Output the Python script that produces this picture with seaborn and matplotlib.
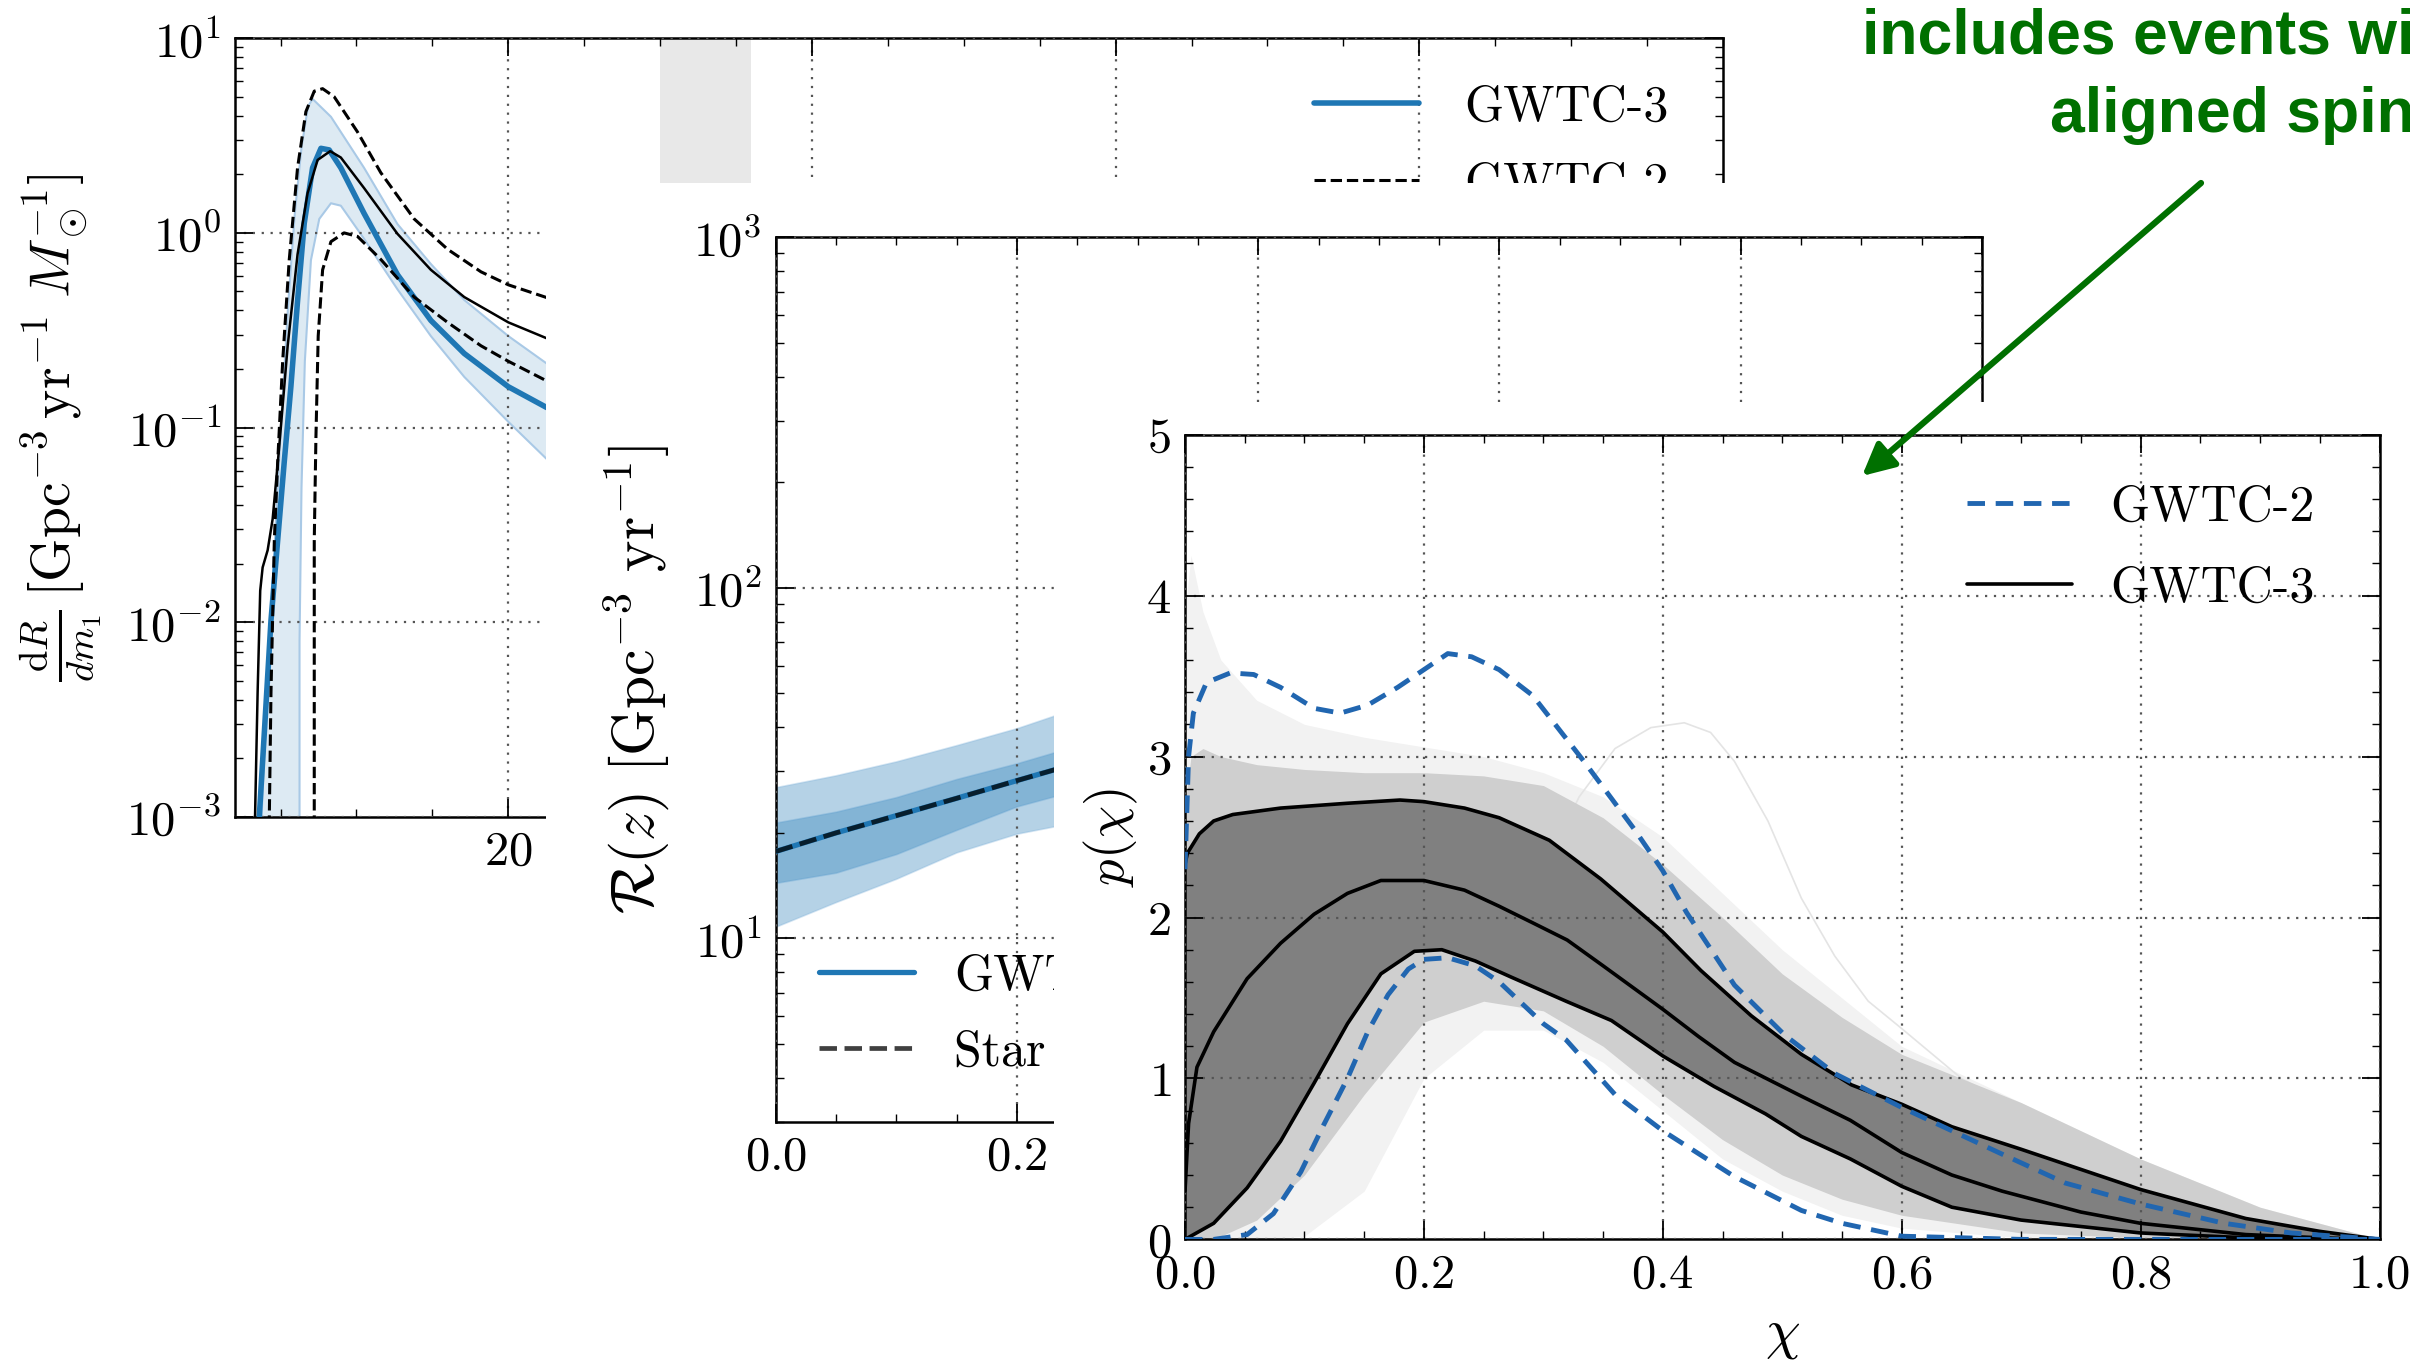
import matplotlib
matplotlib.use("Agg")
import matplotlib.pyplot as plt
import seaborn as sns
from matplotlib.patches import Rectangle, FancyArrowPatch
from matplotlib.ticker import AutoMinorLocator, FixedLocator

# ------------------------------------------------------------------
# Panel 1 : dR/dm1 (log y) versus primary mass
# ------------------------------------------------------------------
m_med = [3.52, 3.6, 3.93, 4.37, 4.81, 5.24, 5.68, 6.12, 6.56, 7.11, 7.66, 8.2, 8.97,
         10.5, 12.7, 14.9, 17.1, 20.0, 22.5, 24.0]
r_med = [0.0005, 0.001, 0.00269, 0.0102, 0.0263, 0.0661, 0.162, 0.447, 1.12, 2.16,
         2.72, 2.67, 2.16, 1.26, 0.610, 0.355, 0.240, 0.162, 0.127, 0.112]
m_band_hi = [3.7, 3.75, 4.19, 4.63, 5.06, 5.5, 5.94, 6.38, 6.81, 7.11, 8.32, 10.5,
             12.7, 14.9, 17.1, 20.0, 22.5, 24.0]
r_band_hi = [0.0005, 0.001, 0.00589, 0.0263, 0.112, 0.427, 1.26, 2.75, 4.47, 4.88,
             3.95, 2.16, 1.11, 0.692, 0.452, 0.295, 0.214, 0.182]
m_band_lo = [6.25, 6.25, 6.38, 6.6, 7.0, 7.55, 8.32, 8.97, 10.5, 12.7, 14.9, 17.1,
             20.0, 22.5, 24.0]
r_band_lo = [0.0005, 0.00794, 0.049, 0.219, 0.724, 1.18, 1.42, 1.38, 0.933, 0.513,
             0.295, 0.182, 0.107, 0.0692, 0.054]
m_gw2_med = [3.3, 3.32, 3.49, 3.66, 3.82, 4.15, 4.48, 4.91, 5.47, 6.12, 6.78, 7.44,
             8.27, 8.97, 10.5, 12.7, 14.9, 17.1, 20.0, 22.5, 24.0]
r_gw2_med = [0.0005, 0.001, 0.00437, 0.0145, 0.0191, 0.0234, 0.0339, 0.0794, 0.263,
             0.776, 1.60, 2.37, 2.63, 2.44, 1.70, 0.989, 0.646, 0.468, 0.347, 0.288,
             0.263]
m_gw2_hi = [4.24, 4.26, 4.37, 4.59, 4.81, 5.14, 5.57, 6.12, 6.67, 7.22, 7.77, 8.53,
            10.07, 11.6, 13.8, 16.0, 18.2, 20.0, 22.5, 24.0]
r_gw2_hi = [0.0005, 0.001, 0.00437, 0.0263, 0.0661, 0.219, 0.724, 2.16, 4.20, 5.35,
            5.51, 5.01, 3.30, 2.04, 1.18, 0.824, 0.631, 0.541, 0.466, 0.44]
m_gw2_lo = [7.22, 7.22, 7.33, 7.48, 7.77, 8.32, 9.19, 10.07, 11.6, 13.8, 16.0, 18.2,
            20.0, 22.5, 24.0]
r_gw2_lo = [0.0005, 0.0263, 0.0891, 0.295, 0.646, 0.902, 1.0, 0.959, 0.731, 0.468,
            0.347, 0.263, 0.219, 0.174, 0.155]
mass_span = [30.0, 36.0]
mass_ticks = [20, 40, 60, 80]
mass_labels = ["GWTC-3", "GWTC-2"]

# ------------------------------------------------------------------
# Panel 2 : merger rate R(z)
# ------------------------------------------------------------------
z_grid = [0.0, 0.05, 0.10, 0.15, 0.20, 0.25]
rz_90_hi = [27.0, 29.2, 32.0, 35.6, 39.8, 45.5]
rz_50_hi = [21.4, 23.0, 25.3, 28.5, 31.6, 35.5]
rz_med = [17.7, 20.0, 22.4, 25.1, 28.2, 31.6]
rz_50_lo = [14.4, 15.4, 17.4, 20.4, 23.8, 26.5]
rz_90_lo = [10.8, 12.7, 14.8, 17.6, 19.9, 21.5]
z_ticks = [0.0, 0.2, 0.4, 0.6, 0.8, 1.0]
rate_labels = ["GWTC-3", "Star formation"]

# ------------------------------------------------------------------
# Panel 3 : spin magnitude p(chi)
# ------------------------------------------------------------------
chi_med = [0.0, 0.003, 0.01, 0.024, 0.052, 0.08, 0.108, 0.136, 0.164, 0.2, 0.234,
           0.263, 0.293, 0.32, 0.35, 0.4, 0.43, 0.46, 0.516, 0.557, 0.6, 0.642,
           0.684, 0.75, 0.8, 0.888, 0.95, 1.0]
p_med = [0.3, 0.72, 1.07, 1.29, 1.62, 1.84, 2.02, 2.15, 2.23, 2.23, 2.17, 2.07, 1.96,
         1.86, 1.70, 1.43, 1.26, 1.10, 0.89, 0.74, 0.54, 0.40, 0.30, 0.17, 0.10,
         0.03, 0.01, 0.0]
chi_hi = [0.0, 0.002, 0.012, 0.024, 0.04, 0.08, 0.136, 0.18, 0.2, 0.234, 0.263, 0.305,
          0.348, 0.4, 0.432, 0.474, 0.516, 0.558, 0.6, 0.642, 0.7, 0.8, 0.888, 0.95,
          1.0]
p_hi = [2.33, 2.40, 2.52, 2.60, 2.64, 2.68, 2.71, 2.73, 2.72, 2.68, 2.62, 2.48, 2.24,
        1.91, 1.67, 1.39, 1.15, 0.96, 0.84, 0.70, 0.56, 0.31, 0.13, 0.05, 0.0]
chi_lo = [0.0, 0.024, 0.052, 0.08, 0.108, 0.136, 0.164, 0.192, 0.215, 0.243, 0.273,
          0.319, 0.357, 0.4, 0.443, 0.486, 0.516, 0.557, 0.6, 0.642, 0.7, 0.8, 0.888,
          1.0]
p_lo = [0.0, 0.10, 0.32, 0.61, 0.97, 1.34, 1.65, 1.79, 1.80, 1.73, 1.63, 1.48, 1.36,
        1.14, 0.95, 0.78, 0.64, 0.50, 0.33, 0.20, 0.12, 0.04, 0.01, 0.0]
chi_gw2_hi = [0.0, 0.003, 0.007, 0.018, 0.038, 0.0575, 0.08, 0.108, 0.13, 0.153, 0.178,
              0.2, 0.22, 0.24, 0.263, 0.291, 0.334, 0.376, 0.4, 0.42, 0.46, 0.502,
              0.544, 0.6, 0.642, 0.684, 0.737, 0.8, 0.87, 0.926, 1.0]
p_gw2_hi = [2.3, 3.0, 3.27, 3.46, 3.52, 3.51, 3.43, 3.30, 3.27, 3.32, 3.43, 3.54, 3.64,
            3.62, 3.54, 3.38, 2.97, 2.55, 2.29, 2.03, 1.58, 1.27, 1.03, 0.82, 0.675,
            0.53, 0.35, 0.22, 0.10, 0.04, 0.0]
chi_gw2_lo = [0.0, 0.024, 0.052, 0.074, 0.097, 0.116, 0.136, 0.153, 0.17, 0.187, 0.2,
              0.22, 0.243, 0.263, 0.3, 0.319, 0.36, 0.4, 0.46, 0.516, 0.55, 0.6, 0.7,
              1.0]
p_gw2_lo = [0.0, 0.0, 0.03, 0.16, 0.42, 0.71, 1.0, 1.29, 1.52, 1.68, 1.74, 1.75, 1.70,
            1.60, 1.34, 1.24, 0.90, 0.675, 0.39, 0.18, 0.10, 0.02, 0.0, 0.0]
# envelope of the individual posterior draws (grey traces)
env_chi = [0.0, 0.005, 0.015, 0.03, 0.06, 0.1, 0.15, 0.2, 0.25, 0.3, 0.35, 0.4, 0.45,
           0.5, 0.55, 0.6, 0.7, 0.8, 0.9, 1.0]
faint_hi = [3.9, 4.25, 3.9, 3.6, 3.35, 3.2, 3.12, 3.06, 3.0, 2.9, 2.75, 2.5, 2.15,
            1.8, 1.5, 1.2, 0.85, 0.5, 0.2, 0.0]
dense_hi = [2.7, 3.0, 3.05, 3.0, 2.95, 2.92, 2.9, 2.9, 2.88, 2.82, 2.62, 2.33, 2.0,
            1.65, 1.38, 1.15, 0.85, 0.5, 0.2, 0.0]
dense_lo = [0.0, 0.0, 0.0, 0.02, 0.12, 0.4, 0.9, 1.35, 1.48, 1.42, 1.2, 0.9, 0.62, 0.4,
            0.25, 0.15, 0.04, 0.01, 0.0, 0.0]
faint_lo = [0.0, 0.0, 0.0, 0.0, 0.0, 0.02, 0.3, 1.0, 1.3, 1.3, 1.1, 0.8, 0.5, 0.3,
            0.15, 0.07, 0.01, 0.0, 0.0, 0.0]
chi_outlier = [0.30, 0.33, 0.36, 0.39, 0.418, 0.44, 0.46, 0.488, 0.516, 0.544, 0.572,
               0.6, 0.65, 0.7]
p_outlier = [2.3, 2.75, 3.05, 3.18, 3.21, 3.15, 2.97, 2.6, 2.12, 1.76, 1.48, 1.31, 1.0,
             0.8]
chi_ticks = [0.0, 0.2, 0.4, 0.6, 0.8, 1.0]
p_ticks = [0, 1, 2, 3, 4, 5]
spin_labels = ["GWTC-2", "GWTC-3"]

note_line1 = "includes events with anti-"
note_line2 = "aligned spins"

# ------------------------------------------------------------------
sns.set_style("ticks")
plt.rcParams.update({
    "font.family": "serif",
    "font.serif": ["cmr10"],
    "mathtext.fontset": "cm",
    "axes.unicode_minus": False,
    "axes.formatter.use_mathtext": True,
    "text.color": "black",
    "axes.labelcolor": "black",
    "xtick.color": "black",
    "ytick.color": "black",
    "axes.edgecolor": "black",
})

W, H = 2410, 1365
fig = plt.figure(figsize=(W / 100, H / 100), dpi=100)

BLUE = "#1f77b4"
DBLUE = "#2166b0"
GREEN = "#007000"


def add_ax(l, t, r, b, z):
    ax = fig.add_axes([l / W, 1 - b / H, (r - l) / W, (b - t) / H])
    ax.set_zorder(z)
    ax.set_facecolor("white")
    return ax


def cover(l, t, z):
    fig.add_artist(Rectangle((l / W, 0), 1 - l / W, 1 - t / H,
                             transform=fig.transFigure, facecolor="white",
                             edgecolor="none", zorder=z))


def style(ax):
    ax.tick_params(which="both", direction="in", top=True, right=True,
                   labelsize=35, pad=10)
    ax.tick_params(which="major", length=13, width=1.3)
    ax.tick_params(which="minor", length=6, width=1.0)
    for s in ax.spines.values():
        s.set_visible(True)
        s.set_linewidth(1.8)
        s.set_color("black")
    ax.grid(True, which="major", linestyle=(0, (1, 3)), color="#555555",
            linewidth=1.6)
    ax.set_axisbelow(False)


# ---------------------------- panel 1 ------------------------------
ax1 = add_ax(235, 38.3, 1723, 816.7, 1)
ax1.set_yscale("log")
ax1.axvspan(mass_span[0], mass_span[1], color="#e8e8e8", lw=0, zorder=0.3)
ax1.fill(m_band_hi + m_band_lo[::-1], r_band_hi + r_band_lo[::-1],
         color=BLUE, alpha=0.15, lw=0, zorder=1)
sns.lineplot(x=m_band_hi, y=r_band_hi, ax=ax1, color="#a9c9e6", lw=1.5,
             estimator=None, sort=False, zorder=1.5)
sns.lineplot(x=m_band_lo, y=r_band_lo, ax=ax1, color="#a9c9e6", lw=1.5,
             estimator=None, sort=False, zorder=1.5)
sns.lineplot(x=m_med, y=r_med, ax=ax1, color=BLUE, lw=4.0, estimator=None,
             sort=False, zorder=3)
h1a = ax1.lines[-1]
sns.lineplot(x=m_gw2_med, y=r_gw2_med, ax=ax1, color="black", lw=1.8,
             estimator=None, sort=False, zorder=3.2)
sns.lineplot(x=m_gw2_hi, y=r_gw2_hi, ax=ax1, color="black", lw=2.2,
             linestyle="--", estimator=None, sort=False, zorder=3.2)
h1b = ax1.lines[-1]
sns.lineplot(x=m_gw2_lo, y=r_gw2_lo, ax=ax1, color="black", lw=2.2,
             linestyle="--", estimator=None, sort=False, zorder=3.2)
ax1.set_xlim(2, 100)
ax1.set_ylim(1e-3, 10)
ax1.xaxis.set_major_locator(FixedLocator(mass_ticks))
ax1.xaxis.set_minor_locator(AutoMinorLocator(4))
style(ax1)
ax1.set_xlabel("")
ax1.set_ylabel(r"$\frac{\mathrm{d}R}{dm_1}\,[\mathrm{Gpc}^{-3}\,\mathrm{yr}^{-1}\;M_\odot^{-1}]$",
               fontsize=40)
ax1.yaxis.set_label_coords(-0.088, 0.5)
ax1.legend([h1a, h1b], mass_labels, loc="upper left",
           bbox_to_anchor=(0.725, 0.94), frameon=False, fontsize=36,
           borderpad=0, borderaxespad=0, handlelength=2.1, handletextpad=0.9,
           labelspacing=0.62)

cover(545.6, 183, 2)

# ---------------------------- panel 2 ------------------------------
ax2 = add_ax(775.7, 237.3, 1982, 1121.7, 3)
ax2.set_yscale("log")
ax2.fill_between(z_grid, rz_90_lo, rz_90_hi, color=BLUE, alpha=0.33, lw=1.2,
                 edgecolor="#7fb2da", zorder=1)
ax2.fill_between(z_grid, rz_50_lo, rz_50_hi, color=BLUE, alpha=0.33, lw=1.2,
                 edgecolor="#5d9fd0", zorder=1.1)
sns.lineplot(x=z_grid, y=rz_med, ax=ax2, color=BLUE, lw=3.8, estimator=None,
             sort=False, zorder=3)
h2a = ax2.lines[-1]
sns.lineplot(x=z_grid, y=rz_med, ax=ax2, color="black", alpha=0.75, lw=3.4,
             linestyle="--", estimator=None, sort=False, zorder=3.2)
h2b = ax2.lines[-1]
ax2.set_xlim(0, 1)
ax2.set_ylim(3, 1000)
ax2.xaxis.set_major_locator(FixedLocator(z_ticks))
ax2.xaxis.set_minor_locator(AutoMinorLocator(4))
style(ax2)
ax2.set_xlabel("")
ax2.set_ylabel(r"$\mathcal{R}(z)\ [\mathrm{Gpc}^{-3}\ \mathrm{yr}^{-1}]$",
               fontsize=43)
ax2.yaxis.set_label_coords(-0.086, 0.5)
ax2.legend([h2a, h2b], rate_labels, loc="upper left",
           bbox_to_anchor=(0.036, 0.19), frameon=False, fontsize=36,
           borderpad=0, borderaxespad=0, handlelength=1.9, handletextpad=0.8,
           labelspacing=0.6)

cover(1054, 401.7, 4)

# ---------------------------- panel 3 ------------------------------
ax3 = add_ax(1185, 434.7, 2379.5, 1239.4, 5)
ax3.fill_between(env_chi, faint_lo, faint_hi, color="#f2f2f2", lw=0, zorder=1)
ax3.fill_between(env_chi, dense_lo, dense_hi, color="#cfcfcf", lw=0, zorder=1.1)
ax3.fill(chi_hi + chi_lo[::-1], p_hi + p_lo[::-1], color="#808080", lw=0,
         zorder=1.2)
sns.lineplot(x=chi_outlier, y=p_outlier, ax=ax3, color="#e4e4e4", lw=1.2,
             estimator=None, sort=False, zorder=1.05)
sns.lineplot(x=chi_gw2_hi, y=p_gw2_hi, ax=ax3, color=DBLUE, lw=3.5,
             linestyle=(0, (3.6, 2.2)), estimator=None, sort=False, zorder=3.3)
h3a = ax3.lines[-1]
sns.lineplot(x=chi_gw2_lo, y=p_gw2_lo, ax=ax3, color=DBLUE, lw=3.5,
             linestyle=(0, (3.6, 2.2)), estimator=None, sort=False, zorder=3.3)
sns.lineplot(x=chi_med, y=p_med, ax=ax3, color="black", lw=2.6,
             estimator=None, sort=False, zorder=3.1)
h3b = ax3.lines[-1]
sns.lineplot(x=chi_hi, y=p_hi, ax=ax3, color="black", lw=2.6,
             estimator=None, sort=False, zorder=3.1)
sns.lineplot(x=chi_lo, y=p_lo, ax=ax3, color="black", lw=2.6,
             estimator=None, sort=False, zorder=3.1)
ax3.set_xlim(0, 1)
ax3.set_ylim(0, 5)
ax3.xaxis.set_major_locator(FixedLocator(chi_ticks))
ax3.yaxis.set_major_locator(FixedLocator(p_ticks))
ax3.xaxis.set_minor_locator(AutoMinorLocator(4))
ax3.yaxis.set_minor_locator(AutoMinorLocator(5))
style(ax3)
ax3.set_xlabel(r"$\chi$", fontsize=40)
ax3.xaxis.set_label_coords(0.5, -0.09)
ax3.set_ylabel(r"$p(\chi)$", fontsize=38)
ax3.yaxis.set_label_coords(-0.038, 0.5)
ax3.legend([h3a, h3b], spin_labels, loc="upper left",
           bbox_to_anchor=(0.655, 0.938), frameon=False, fontsize=36,
           borderpad=0, borderaxespad=0, handlelength=2.1, handletextpad=0.75,
           labelspacing=0.7)

# ---------------------------- annotation ---------------------------
fig.text(1861.5 / W, 1 - 54 / H, note_line1, ha="left", va="baseline",
         fontsize=45, fontweight="bold", family="Liberation Sans", color=GREEN,
         zorder=20)
fig.text(2049.7 / W, 1 - 131.7 / H, note_line2, ha="left", va="baseline",
         fontsize=45, fontweight="bold", family="Liberation Sans", color=GREEN,
         zorder=20)
arrow = FancyArrowPatch(posA=(2201 / W, 1 - 183 / H), posB=(1862 / W, 1 - 476 / H),
                        transform=fig.transFigure, arrowstyle="-|>",
                        mutation_scale=48, lw=4.5, color=GREEN,
                        shrinkA=0, shrinkB=0, zorder=20)
fig.add_artist(arrow)

fig.savefig("out.png", dpi=100)
